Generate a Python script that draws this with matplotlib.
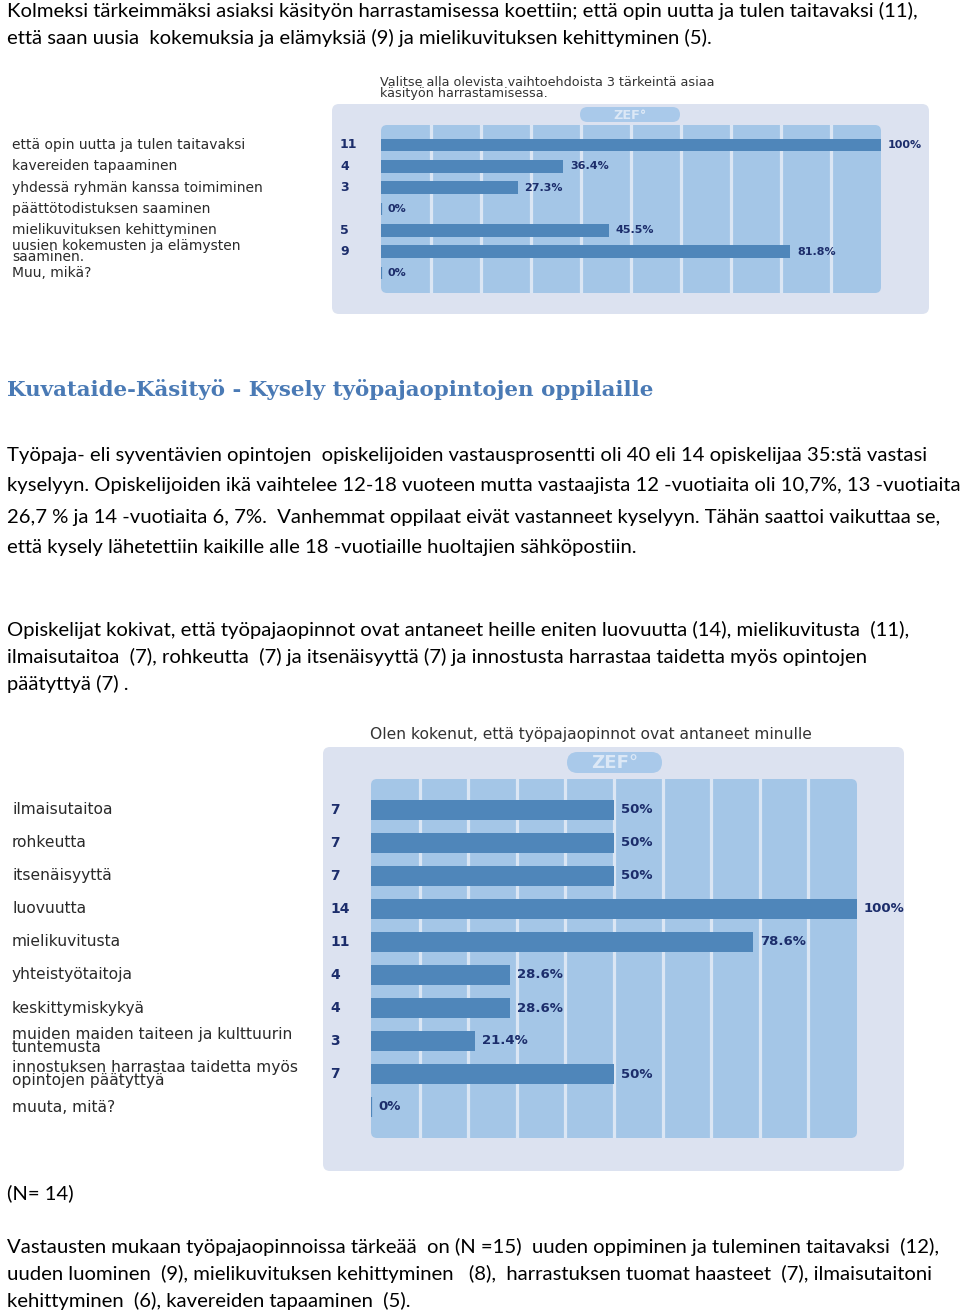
import matplotlib
matplotlib.use("Agg")
import matplotlib.pyplot as plt
import matplotlib.transforms as mtransforms
from matplotlib.patches import FancyBboxPatch

# chart 1 data
labels1 = ["että opin uutta ja tulen taitavaksi", "kavereiden tapaaminen",
           "yhdessä ryhmän kanssa toimiminen", "päättötodistuksen saaminen",
           "mielikuvituksen kehittyminen", "uusien kokemusten ja elämysten\nsaaminen.",
           "Muu, mikä?"]
counts1 = [11, 4, 3, 0, 5, 9, 0]
pct1 = [100, 36.4, 27.3, 0, 45.5, 81.8, 0]
title1 = "Valitse alla olevista vaihtoehdoista 3 tärkeintä asiaa\nkäsityön harrastamisessa."

# chart 2 data
labels2 = ["ilmaisutaitoa", "rohkeutta", "itsenäisyyttä", "luovuutta", "mielikuvitusta",
           "yhteistyötaitoja", "keskittymiskykyä",
           "muiden maiden taiteen ja kulttuurin\ntuntemusta",
           "innostuksen harrastaa taidetta myös\nopintojen päätyttyä", "muuta, mitä?"]
counts2 = [7, 7, 7, 14, 11, 4, 4, 3, 7, 0]
pct2 = [50, 50, 50, 100, 78.6, 28.6, 28.6, 21.4, 50, 0]
title2 = "Olen kokenut, että työpajaopinnot ovat antaneet minulle"

para1 = ["Kolmeksi tärkeimmäksi asiaksi käsityön harrastamisessa koettiin; että opin uutta ja tulen taitavaksi (11),",
         "että saan uusia  kokemuksia ja elämyksiä (9) ja mielikuvituksen kehittyminen (5)."]
heading = "Kuvataide-Käsityö - Kysely työpajaopintojen oppilaille"
para2 = ["Työpaja- eli syventävien opintojen  opiskelijoiden vastausprosentti oli 40 eli 14 opiskelijaa 35:stä vastasi",
         "kyselyyn. Opiskelijoiden ikä vaihtelee 12-18 vuoteen mutta vastaajista 12 -vuotiaita oli 10,7%, 13 -vuotiaita",
         "26,7 % ja 14 -vuotiaita 6, 7%.  Vanhemmat oppilaat eivät vastanneet kyselyyn. Tähän saattoi vaikuttaa se,",
         "että kysely lähetettiin kaikille alle 18 -vuotiaille huoltajien sähköpostiin."]
para3 = ["Opiskelijat kokivat, että työpajaopinnot ovat antaneet heille eniten luovuutta (14), mielikuvitusta  (11),",
         "ilmaisutaitoa  (7), rohkeutta  (7) ja itsenäisyyttä (7) ja innostusta harrastaa taidetta myös opintojen",
         "päätyttyä (7) ."]
note_n = "(N= 14)"
para4 = ["Vastausten mukaan työpajaopinnoissa tärkeää  on (N =15)  uuden oppiminen ja tuleminen taitavaksi  (12),",
         "uuden luominen  (9), mielikuvituksen kehittyminen   (8),  harrastuksen tuomat haasteet  (7), ilmaisutaitoni",
         "kehittyminen  (6), kavereiden tapaaminen  (5)."]

W, H = 960, 1313
BAR = "#4f86ba"
COL = "#a4c6e7"
GRID = "#dbe6f4"
PANEL = "#dce2f0"
NAVY = "#1c2d6b"
BODY = "Lato"

fig = plt.figure(figsize=(W / 100, H / 100), dpi=100)
page = fig.add_axes([0, 0, 1, 1])
page.set_xlim(0, W)
page.set_ylim(H, 0)
page.axis("off")


def lines(rows, y0, step, size=14.6):
    for i, t in enumerate(rows):
        page.text(7, y0 + i * step, t, fontsize=size, family=BODY, va="center", ha="left", color="black")


lines(para1, 11, 27)
page.text(7, 390, heading, fontsize=15.4, family="DejaVu Serif", fontweight="bold",
          color="#4a7ab5", va="center")
lines(para2, 455, 31)
lines(para3, 630, 27)
lines([note_n], 1193, 27)
lines(para4, 1247, 27)


def zef_chart(labels, counts, pct, title, panel, inner, row0, step, lab_size, cnt_x,
              lab_ls, cnt_size, pct_size, title_xy, title_size, title_ls, pill):
    px0, py0, px1, py1 = panel
    page.add_patch(FancyBboxPatch((px0, py0), px1 - px0, py1 - py0,
                                  boxstyle="round,pad=0,rounding_size=7",
                                  fc=PANEL, ec="none", zorder=1))
    ix0, iy0, ix1, iy1 = inner
    page.add_patch(FancyBboxPatch((ix0, iy0), ix1 - ix0, iy1 - iy0,
                                  boxstyle="round,pad=0,rounding_size=6",
                                  fc=COL, ec="none", zorder=2))
    # ZEF pill
    cx0, cy0, cx1, cy1 = pill
    page.add_patch(FancyBboxPatch((cx0, cy0), cx1 - cx0, cy1 - cy0,
                                  boxstyle="round,pad=0,rounding_size=%g" % ((cy1 - cy0) / 2),
                                  fc="#a9c9ea", ec="none", zorder=2))
    page.text((cx0 + cx1) / 2, (cy0 + cy1) / 2 + 1, "ZEF°", color="#dce8f6", fontsize=(cy1 - cy0) * 0.62,
              fontweight="bold", ha="center", va="center", zorder=3)
    page.text(title_xy[0], title_xy[1], title, fontsize=title_size, family="DejaVu Sans",
              color="#333333", va="center", ha="left", linespacing=title_ls)

    ax = fig.add_axes([ix0 / W, 1 - iy1 / H, (ix1 - ix0) / W, (iy1 - iy0) / H], zorder=5)
    ax.set_facecolor("none")
    n = len(labels)
    pad = (row0 - iy0) / step
    ax.set_ylim(n - 1 + pad, -pad)
    ax.set_xlim(0, 100)
    ax.set_xticks(range(10, 100, 10))
    ax.grid(axis="x", color=GRID, lw=2.3)
    ax.tick_params(length=0, labelbottom=False, labelleft=False)
    for s in ax.spines.values():
        s.set_visible(False)
    ax.set_axisbelow(True)

    ys = list(range(n))
    hb = 0.6
    ax.barh(ys, pct, height=hb, color=BAR, zorder=3)
    for y, v in zip(ys, pct):
        if v == 0:
            ax.vlines(v, y - hb / 2, y + hb / 2, color=BAR, lw=1.6, zorder=3)
        ax.annotate(f"{v:g}%", (v, y), xytext=(5, 0), textcoords="offset points",
                    fontsize=pct_size, fontweight="bold", color=NAVY, va="center",
                    ha="left", annotation_clip=False, family="DejaVu Sans")

    tr = mtransforms.blended_transform_factory(page.transData, ax.transData)
    for y, lab, c in zip(ys, labels, counts):
        ax.text(12, y, lab, transform=tr, fontsize=lab_size, color="#2a2a2a",
                va="center", ha="left", linespacing=lab_ls, clip_on=False, family="DejaVu Sans")
        if c:
            ax.text(cnt_x, y, str(c), transform=tr, fontsize=cnt_size, color=NAVY,
                    fontweight="bold", va="center", ha="left", clip_on=False, family="DejaVu Sans")
    return ax


zef_chart(labels1, counts1, pct1, title1,
          panel=(332, 104, 929, 314), inner=(381, 125, 881, 293),
          row0=145, step=(273 - 145) / 6, lab_size=10, cnt_x=340, lab_ls=0.75,
          cnt_size=9, pct_size=8, title_xy=(380, 88), title_size=9.2, title_ls=0.82,
          pill=(580, 107, 680, 122))

zef_chart(labels2, counts2, pct2, title2,
          panel=(323, 747, 904, 1171), inner=(371, 779, 857, 1138),
          row0=810, step=33, lab_size=11.2, cnt_x=330, lab_ls=0.82,
          cnt_size=10, pct_size=9.5, title_xy=(370, 734), title_size=11.2, title_ls=1.0,
          pill=(567, 752, 662, 773))

fig.savefig("out.png", dpi=100)
